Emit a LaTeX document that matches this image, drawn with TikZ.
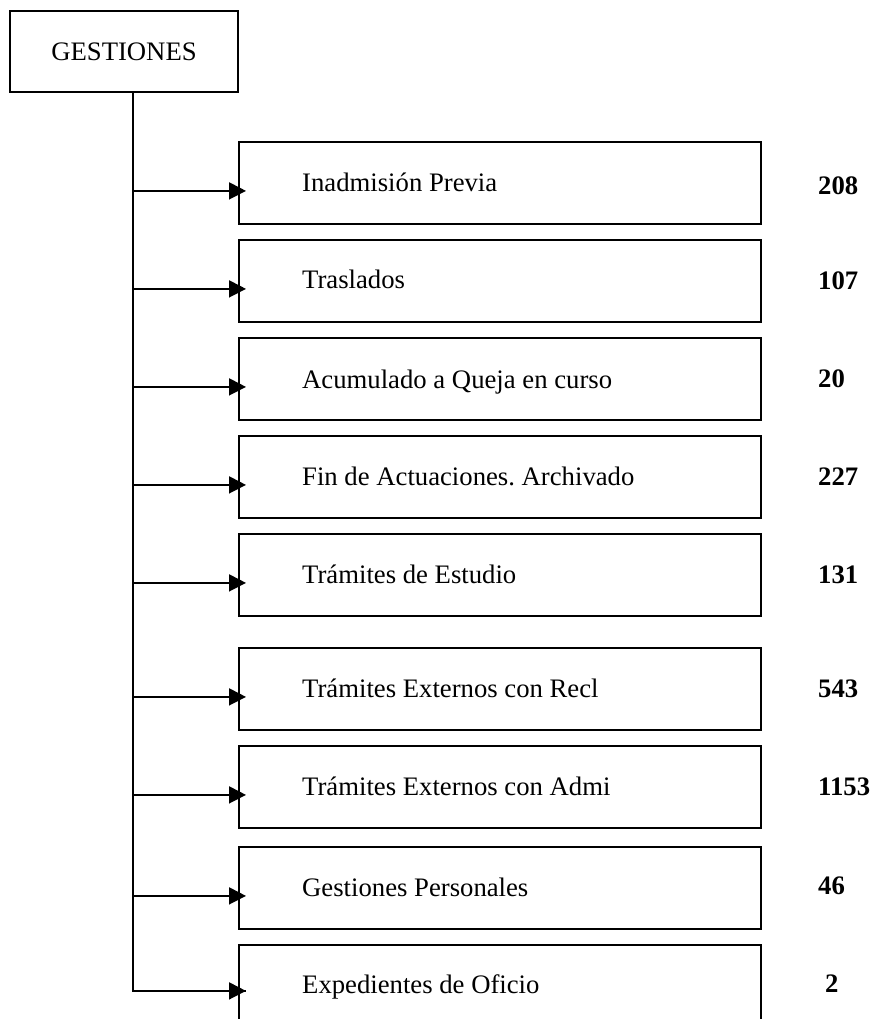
\documentclass[tikz,border=0pt]{standalone}
\usepackage{fontspec}
\setmainfont{Liberation Serif}
\usetikzlibrary{arrows.meta,calc}
\frenchspacing

\tikzset{
  frame/.style={draw=black, line width=1.8pt},
  headbox/.style={frame, rectangle, minimum width=228pt, minimum height=81pt,
    inner sep=0pt, font=\fontsize{26.7}{32}\selectfont},
  itembox/.style={frame, rectangle, anchor=north west, minimum width=522pt,
    minimum height=82pt, inner sep=0pt},
  itemtext/.style={anchor=base west, inner sep=0pt, font=\fontsize{26.7}{32}\selectfont},
  count/.style={anchor=base west, inner sep=0pt, font=\fontsize{26.7}{32}\selectfont\bfseries},
  feed/.style={draw=black, line width=1.8pt, -{Triangle[length=17pt,width=17pt]}},
}

\begin{document}
\begin{tikzpicture}[x=1pt, y=-1pt]
  \useasboundingbox (0,0) rectangle (876,1019);
  \clip (0,0) rectangle (876,1019);

  % root box
  \node[headbox] (g) at (124,51.5) {GESTIONES};

  % category boxes
  \node[itembox] (b1) at (238,141) {};
  \node[itembox] (b2) at (238,239) {};
  \node[itembox] (b3) at (238,337) {};
  \node[itembox] (b4) at (238,435) {};
  \node[itembox] (b5) at (238,533) {};
  \node[itembox] (b6) at (238,647) {};
  \node[itembox] (b7) at (238,745) {};
  \node[itembox] (b8) at (238,846) {};
  \node[itembox] (b9) at (238,944) {};

  % labels inside the boxes
  \node[itemtext] (l1) at (302,192) {Inadmisión Previa};
  \node[itemtext] (l2) at (302,288) {Traslados};
  \node[itemtext] (l3) at (302,388) {Acumulado a Queja en curso};
  \node[itemtext] (l4) at (302,485) {Fin de Actuaciones. Archivado};
  \node[itemtext] (l5) at (302,583) {Trámites de Estudio};
  \node[itemtext] (l6) at (302,697) {Trámites Externos con Recl};
  \node[itemtext] (l7) at (302,795) {Trámites Externos con Admi};
  \node[itemtext] (l8) at (302,896) {Gestiones Personales};
  \node[itemtext] (l9) at (302,993) {Expedientes de Oficio};

  % totals
  \node[count] (n1) at (818,194) {208};
  \node[count] (n2) at (818,289) {107};
  \node[count] (n3) at (818,387) {20};
  \node[count] (n4) at (818,485) {227};
  \node[count] (n5) at (818,583) {131};
  \node[count] (n6) at (818,697) {543};
  \node[count] (n7) at (818,795) {1153};
  \node[count] (n8) at (818,894) {46};
  \node[count] (n9) at (825,992) {2};

  % branch points just below the middle of each box's left side
  \foreach \i in {1,...,8} {
    \coordinate (a\i) at ($(b\i.west)+(8pt,-8pt)$);
  }
  \coordinate (a9) at ($(b9.west)+(8pt,-5pt)$);

  % trunk from the root box down to the last branch
  \coordinate (t0) at (133,92);
  \draw[frame, line join=miter] (t0) -- (t0 |- a9) -- (a9);

  % branches into each box
  \foreach \i in {1,...,9} {
    \draw[feed] (t0 |- a\i) -- (a\i);
  }
\end{tikzpicture}
\end{document}
